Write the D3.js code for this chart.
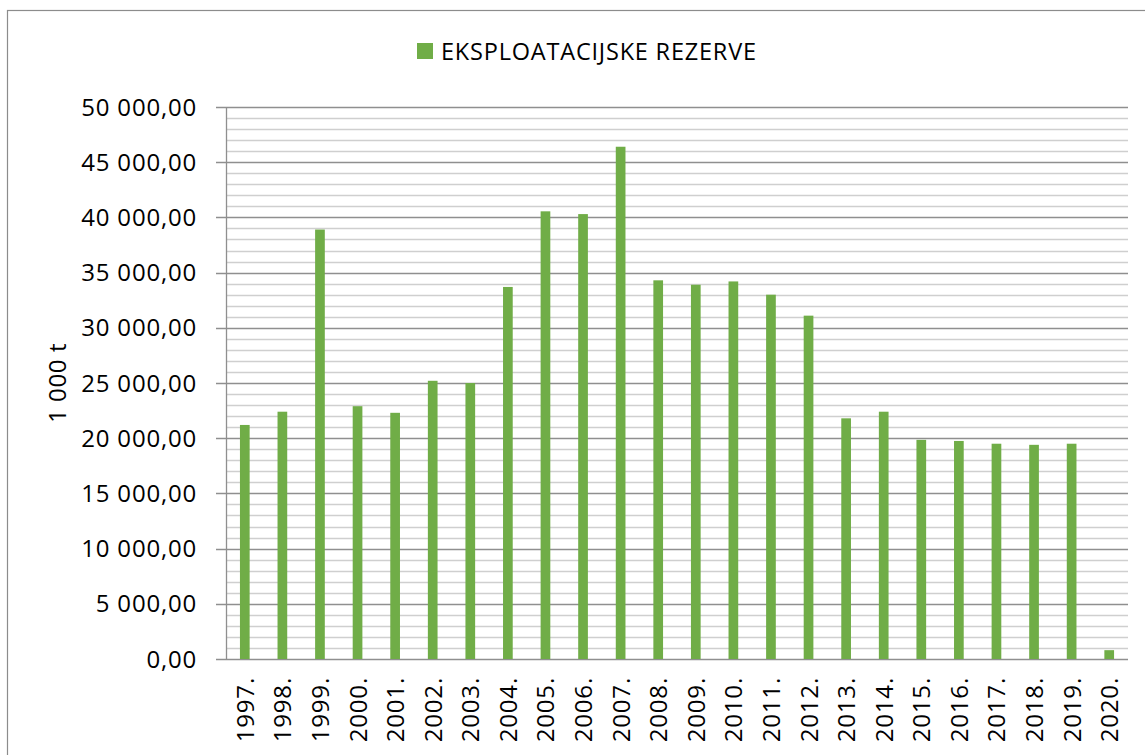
<!DOCTYPE html>
<html>
<head>
<meta charset="utf-8">
<script src="https://cdn.jsdelivr.net/npm/d3@7"></script>
<style>
  html, body { margin: 0; padding: 0; background: #fff; }
  svg { display: block; font-family: "Open Sans", "Liberation Sans", Arial, sans-serif; }
</style>
</head>
<body>
<svg id="chart" width="1145" height="755"></svg>
<script>
// data
const years = ["1997.", "1998.", "1999.", "2000.", "2001.", "2002.", "2003.", "2004.",
  "2005.", "2006.", "2007.", "2008.", "2009.", "2010.", "2011.", "2012.",
  "2013.", "2014.", "2015.", "2016.", "2017.", "2018.", "2019.", "2020."];
const reserves = [21200, 22400, 38900, 22900, 22300, 25200, 25000, 33700,
  40550, 40300, 46400, 34300, 33900, 34200, 33000, 31100,
  21800, 22400, 19850, 19750, 19500, 19400, 19500, 800];
const majorTicks = [0, 5000, 10000, 15000, 20000, 25000, 30000, 35000, 40000, 45000, 50000];
const seriesName = "EKSPLOATACIJSKE REZERVE";
const yTitle = "1 000 t";

const svg = d3.select("#chart");
const margin = {top: 107, right: 17, bottom: 96, left: 226};
const width = 1145, height = 755;

// chart frame
svg.append("rect")
  .attr("x", 7.5).attr("y", 10.5)
  .attr("width", width + 20).attr("height", height + 20)
  .attr("fill", "none").attr("stroke", "#8c8c8c").attr("stroke-width", 1.2);

const x = d3.scaleBand()
  .domain(years)
  .range([margin.left, width - margin.right])
  .paddingInner(0.742)
  .paddingOuter(0.371);

const y = d3.scaleLinear()
  .domain([0, 50000])
  .range([height - margin.bottom, margin.top]);

const fmt = v => {
  const s = d3.format(",.2f")(v);
  return s.replace(/,/g, " ").replace(".", ",");
};

// minor grid
svg.append("g")
  .selectAll("line").data(d3.range(1000, 50000, 1000).filter(v => v % 5000 !== 0))
  .enter().append("line")
  .attr("x1", margin.left).attr("x2", width - margin.right)
  .attr("y1", d => Math.round(y(d)) + 0.5).attr("y2", d => Math.round(y(d)) + 0.5)
  .attr("stroke", "#cfcfcf").attr("stroke-width", 1.3);

// major grid + ticks
svg.append("g")
  .selectAll("line").data(majorTicks)
  .enter().append("line")
  .attr("x1", margin.left - 10).attr("x2", width - margin.right)
  .attr("y1", d => Math.round(y(d)) + 0.5).attr("y2", d => Math.round(y(d)) + 0.5)
  .attr("stroke", "#8f8f8f").attr("stroke-width", 1.3);

// y axis labels
svg.append("g")
  .selectAll("text").data(majorTicks)
  .enter().append("text")
  .attr("x", 197)
  .attr("y", d => y(d) + 8.5)
  .attr("text-anchor", "end")
  .attr("font-size", 24)
  .attr("letter-spacing", 0.8)
  .attr("fill", "#000")
  .text(fmt);

// bars
svg.append("g")
  .attr("fill", "#70ad47")
  .selectAll("rect").data(reserves)
  .enter().append("rect")
  .attr("x", (d, i) => x(years[i]))
  .attr("y", d => y(d))
  .attr("width", x.bandwidth())
  .attr("height", d => y(0) - y(d));

// axis lines
svg.append("line")
  .attr("x1", margin.left + 0.5).attr("x2", margin.left + 0.5)
  .attr("y1", y(50000)).attr("y2", y(0))
  .attr("stroke", "#8f8f8f").attr("stroke-width", 1.3);

// x labels
svg.append("g")
  .selectAll("text").data(years)
  .enter().append("text")
  .attr("transform", d => `translate(${x(d) + x.bandwidth() / 2 + 9},677) rotate(-90)`)
  .attr("text-anchor", "end")
  .attr("font-size", 24)
  .attr("letter-spacing", 0.8)
  .attr("fill", "#000")
  .text(d => d);

// y title
svg.append("text")
  .attr("transform", "translate(66,383) rotate(-90)")
  .attr("text-anchor", "middle")
  .attr("font-size", 24)
  .attr("letter-spacing", 0.6)
  .attr("fill", "#000")
  .text(yTitle);

// legend
const lg = svg.append("g");
lg.append("rect")
  .attr("x", 417).attr("y", 43)
  .attr("width", 16).attr("height", 16)
  .attr("fill", "#70ad47");
lg.append("text")
  .attr("x", 441).attr("y", 59.5)
  .attr("font-size", 23.5)
  .attr("letter-spacing", 0.8)
  .attr("fill", "#000")
  .text(seriesName);
</script>
</body>
</html>
